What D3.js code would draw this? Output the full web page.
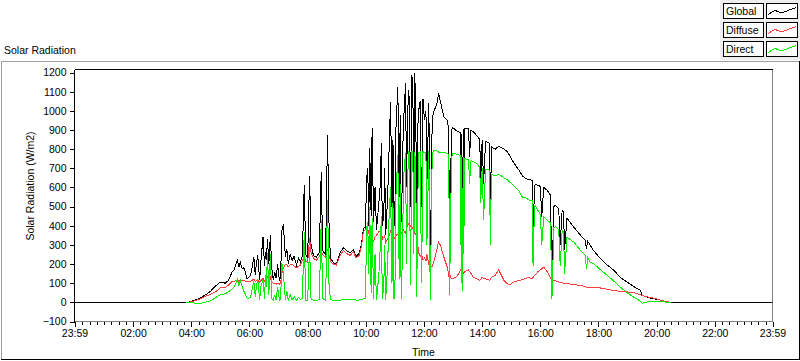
<!DOCTYPE html>
<html>
<head>
<meta charset="utf-8">
<script src="https://cdn.jsdelivr.net/npm/d3@7"></script>
<style>
    body { margin: 0; background: #fff; }
    text { font-family: "Liberation Sans", Arial, sans-serif; font-size: 10.5px; fill: #000; }
</style>
</head>
<body>
<svg id="chart"></svg>
<script>
// readings (W/m2), shared time base
const times = [
    "00:00","03:50","03:58","04:10","04:20","04:30","04:40","04:50","05:00","05:10",
    "05:17","05:24","05:28","05:31","05:35","05:38","05:41","05:45","05:48","05:51",
    "05:55","06:02","06:05","06:09","06:12","06:14","06:17","06:21","06:24","06:28",
    "06:31","06:33","06:35","06:37","06:40","06:43","06:46","06:49","06:52","06:55",
    "06:58","07:02","07:04","07:07","07:10","07:14","07:17","07:20","07:24","07:28",
    "07:32","07:37","07:41","07:45","07:49","07:53","07:56","08:00","08:04","08:07",
    "08:12","08:18","08:24","08:28","08:31","08:37","08:41","08:44","08:47","08:53",
    "08:59","09:08","09:14","09:20","09:28","09:34","09:40","09:46","09:51","09:55",
    "09:59","10:02","10:04","10:06","10:08","10:11","10:13","10:16","10:19","10:22",
    "10:27","10:30","10:32","10:34","10:37","10:39","10:41","10:45","10:48","10:51",
    "10:54","10:56","10:58","11:00","11:02","11:06","11:09","11:11","11:13","11:15",
    "11:17","11:19","11:22","11:24","11:26","11:28","11:30","11:32","11:35","11:37",
    "11:39","11:41","11:43","11:45","11:47","11:49","11:52","11:55","11:58","12:01",
    "12:04","12:06","12:10","12:13","12:17","12:21","12:27","12:30","12:34","12:41",
    "12:48","12:51","12:53","12:55","12:58","13:05","13:12","13:15","13:17","13:18",
    "13:19","13:21","13:22","13:24","13:32","13:34","13:37","13:42","13:49","13:55",
    "13:57","14:00","14:03","14:07","14:15","14:17","14:19","14:27","14:34","14:45",
    "14:52","14:58","15:05","15:16","15:23","15:30","15:36","15:43","15:45","15:48",
    "15:50","15:55","16:00","16:03","16:07","16:14","16:21","16:24","16:28","16:31",
    "16:38","16:41","16:45","16:48","16:50","16:55","17:09","17:23","17:33","17:35",
    "17:38","17:43","17:50","18:04","18:18","18:32","18:45","18:59","19:13","19:27",
    "19:30","19:40","19:43","19:54","20:10","20:22","20:29","23:59"
];

const globalRad = [
    0,0,3,14,25,40,59,85,106,100,
    115,158,167,190,219,184,210,176,182,160,
    123,141,175,236,141,200,245,115,230,341,
    190,260,220,330,200,350,180,115,160,125,
    200,110,130,376,407,236,280,200,250,220,
    240,195,230,210,240,611,250,230,658,300,
    245,235,260,681,270,250,873,420,230,208,
    200,265,285,270,260,275,240,255,300,385,
    393,655,700,400,805,450,908,420,600,380,
    520,620,830,400,450,700,350,550,800,1047,
    500,850,390,480,900,1125,550,980,420,600,
    880,1000,1143,600,950,1108,1050,500,1187,1100,
    650,1195,1000,420,900,1000,1050,500,1060,950,
    1000,620,1040,190,960,1000,1040,1091,1047,969,
    951,900,220,700,916,900,890,885,350,880,
    280,905,450,908,908,760,899,890,870,850,
    640,847,620,840,830,437,812,800,815,800,
    786,760,730,690,660,646,640,638,324,611,
    615,612,605,446,600,585,559,115,500,507,
    490,300,480,470,271,440,393,350,324,280,
    318,298,270,228,195,167,130,106,82,62,
    36,28,25,19,10,1,0,0
];

const diffuseRad = [
    null,0,2,10,20,32,42,55,76,78,
    90,110,110,112,115,110,118,112,115,112,
    108,110,115,120,108,112,118,105,115,125,
    110,118,120,135,120,130,105,100,100,95,
    98,95,100,150,180,200,195,185,195,200,
    190,180,188,195,220,240,215,210,334,260,
    230,220,240,260,250,235,280,250,215,200,
    195,250,270,255,245,265,232,245,290,370,
    380,390,380,360,350,330,340,320,340,350,
    370,370,380,330,340,350,310,330,350,370,
    350,340,330,340,350,355,340,350,360,370,
    380,370,360,390,400,410,400,400,380,390,
    400,360,355,350,300,260,240,250,220,230,
    215,250,200,185,185,220,280,315,298,236,
    184,141,150,130,123,130,150,170,160,155,
    150,150,155,160,170,160,150,130,123,115,
    120,130,125,123,115,120,130,140,170,115,
    97,93,106,115,118,125,130,123,130,141,
    145,160,170,175,184,160,130,110,115,112,
    106,105,103,100,100,98,93,88,82,80,
    80,78,77,75,68,62,58,55,50,40,
    35,30,27,22,10,3,0,null
];

const directRad = [
    null,0,0,-6,-5,2,8,25,40,45,
    55,70,80,95,120,90,115,80,60,45,
    20,25,60,110,30,80,120,15,90,115,
    20,140,80,255,40,250,20,10,40,10,
    80,10,15,203,150,15,60,10,40,12,
    30,10,25,15,20,367,10,12,290,20,
    10,10,15,428,20,12,533,100,15,10,
    10,12,15,15,15,15,12,12,14,18,
    20,390,420,150,500,50,440,20,250,10,
    150,300,450,20,80,300,10,200,450,600,
    100,520,15,60,550,770,120,620,20,200,
    500,700,780,200,600,790,780,90,790,780,
    250,785,700,30,500,780,785,100,790,780,
    780,300,790,10,780,795,790,785,780,785,
    777,770,40,500,780,775,770,765,100,760,
    60,760,250,750,745,620,740,735,725,705,
    520,700,430,695,690,300,670,660,670,650,
    640,625,610,580,550,545,535,530,190,500,
    505,480,460,300,445,430,415,20,390,395,
    380,190,375,365,150,340,315,270,245,176,
    235,210,202,170,141,110,80,50,27,5,
    -4,1,6,6,3,1,0,null
];

const seriesNames = ["Global", "Diffuse", "Direct"];
const seriesColors = ["#000000", "#ff3c3c", "#00f000"];

const yTicks = [-100, 0, 100, 200, 300, 400, 500, 600, 700, 800, 900, 1000, 1100, 1200];
const xTickLabels = ["23:59", "02:00", "04:00", "06:00", "08:00", "10:00", "12:00",
                     "14:00", "16:00", "18:00", "20:00", "22:00", "23:59"];


let width = 800;
let height = 361;
let plot = {left: 74.5, right: 772.5, top: 69.5, bottom: 321.5};

let toMinutes = s =>
{
    let [h, m] = s.split(":").map(Number);
    return h * 60 + m;
};

// axis runs from 23:59 the day before to 23:59
let xTickMinutes = xTickLabels.map((s, i) => i === 0 ? toMinutes(s) - 1440 : toMinutes(s));
let minorTicks = [];
for (let m = 15; m < 1440; m += 15) if (m % 120 !== 0) minorTicks.push(m);

let x = d3.scaleLinear([-1, 1439], [plot.left, plot.right]);
let y = d3.scaleLinear([-100, 1200], [plot.bottom, 72.5]);

let svg = d3.select("#chart").attr("width", width).attr("height", height);

// outer panel frame
svg.append("rect").attr("width", width).attr("height", height).attr("fill", "#fff");
let frame = svg.append("g").attr("shape-rendering", "crispEdges");
frame.append("line").attr("x1", 1).attr("x2", 799).attr("y1", 61.5).attr("y2", 61.5).attr("stroke", "#a0a0a0");
frame.append("line").attr("x1", 1.5).attr("x2", 1.5).attr("y1", 61).attr("y2", 360).attr("stroke", "#a0a0a0");
frame.append("line").attr("x1", 1).attr("x2", 800).attr("y1", 359.5).attr("y2", 359.5).attr("stroke", "#000");
frame.append("line").attr("x1", 799.5).attr("x2", 799.5).attr("y1", 61).attr("y2", 360).attr("stroke", "#000");

svg.append("text").attr("x", 4).attr("y", 54).text("Solar Radiation");

// plot frame
let pf = svg.append("g").attr("shape-rendering", "crispEdges");
pf.append("line").attr("x1", plot.left).attr("x2", plot.right).attr("y1", plot.top).attr("y2", plot.top).attr("stroke", "#000");
pf.append("line").attr("x1", plot.right).attr("x2", plot.right).attr("y1", plot.top).attr("y2", plot.bottom).attr("stroke", "#808080");

// series
let rows = times.map((t, i) => ({t: toMinutes(t), g: globalRad[i], d: diffuseRad[i], b: directRad[i]}));
let keys = ["g", "d", "b"];

svg.append("clipPath").attr("id", "clip")
    .append("rect").attr("x", plot.left).attr("y", plot.top)
    .attr("width", plot.right - plot.left).attr("height", plot.bottom - plot.top);

let lines = svg.append("g").attr("clip-path", "url(#clip)");
keys.forEach((k, i) =>
{
    let line = d3.line()
        .defined(d => d[k] !== null)
        .x(d => x(d.t))
        .y(d => y(d[k]));
    lines.append("path")
        .datum(rows)
        .attr("fill", "none")
        .attr("stroke", seriesColors[i])
        .attr("stroke-width", 1)
        .attr("shape-rendering", "crispEdges")
        .attr("d", line);
});

// axes
let yAxis = svg.append("g")
    .attr("transform", `translate(${plot.left},0)`)
    .attr("shape-rendering", "crispEdges")
    .call(d3.axisLeft(y).tickValues(yTicks).tickSize(5).tickPadding(3).tickFormat(d3.format("d")));
yAxis.select(".domain").attr("d", `M0,${plot.top}V${plot.bottom}`).attr("stroke", "#000");
yAxis.selectAll("text").attr("font-family", null).attr("font-size", null);

let xAxis = svg.append("g")
    .attr("transform", `translate(0,${plot.bottom})`)
    .attr("shape-rendering", "crispEdges")
    .call(d3.axisBottom(x).tickValues(xTickMinutes).tickSize(5).tickPadding(3)
        .tickFormat((d, i) => xTickLabels[i]));
xAxis.select(".domain").attr("d", `M${plot.left},0H${plot.right}`).attr("stroke", "#808080");
xAxis.selectAll("text").attr("font-family", null).attr("font-size", null);

let xMinor = svg.append("g")
    .attr("transform", `translate(0,${plot.bottom})`)
    .attr("shape-rendering", "crispEdges")
    .call(d3.axisBottom(x).tickValues(minorTicks).tickSize(3).tickFormat(""));
xMinor.select(".domain").remove();

svg.append("text")
    .attr("x", (plot.left + plot.right) / 2)
    .attr("y", 356)
    .attr("text-anchor", "middle")
    .text("Time");

svg.append("text")
    .attr("transform", `translate(34,186) rotate(-90)`)
    .attr("text-anchor", "middle")
    .text("Solar Radiation (W/m2)");

// legend
let legend = svg.append("g").attr("shape-rendering", "crispEdges");
legend.append("rect").attr("x", 720).attr("y", 0).attr("width", 80).attr("height", 60).attr("fill", "#eeeeee");
let sampleShape = [[0, 11], [7, 7], [14, 9.5], [20, 7], [28, 4]];
seriesNames.forEach((name, i) =>
{
    let top = 3.5 + i * 19;
    legend.append("rect").attr("x", 723.5).attr("y", top).attr("width", 40).attr("height", 15)
        .attr("fill", "#fff").attr("stroke", "#000");
    legend.append("text").attr("x", 726).attr("y", top + 11.5).text(name);
    legend.append("rect").attr("x", 766.5).attr("y", top).attr("width", 31).attr("height", 15)
        .attr("fill", "#fff").attr("stroke", "#000");
    legend.append("path")
        .attr("d", d3.line()(sampleShape.map(([dx, dy]) => [768 + dx, top + dy])))
        .attr("fill", "none")
        .attr("stroke", seriesColors[i]);
});
</script>
</body>
</html>
